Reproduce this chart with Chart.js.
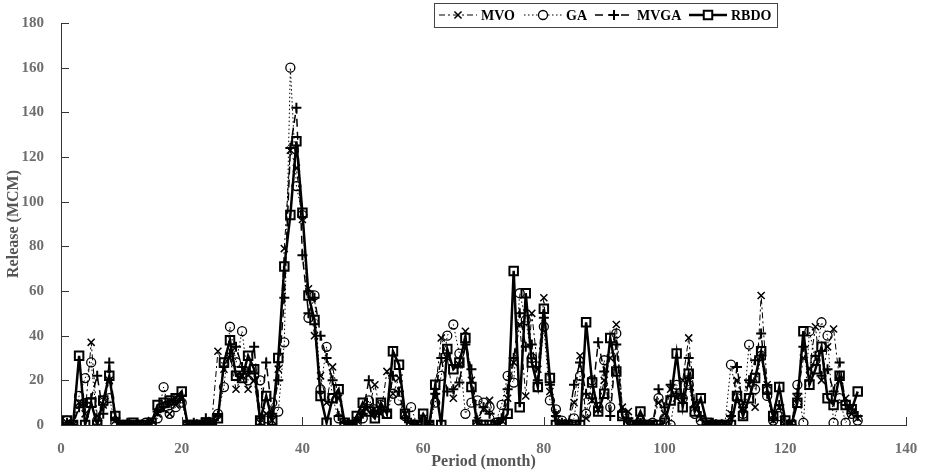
<!DOCTYPE html>
<html>
<head>
<meta charset="utf-8">
<title>Release per period</title>
<script src="https://cdn.jsdelivr.net/npm/chart.js@4"></script>
<style>
    html, body { margin: 0; padding: 0; background: #fff; }
    #wrap { width: 925px; height: 472px; }
</style>
</head>
<body>
<div id="wrap"><canvas id="releaseChart" width="925" height="472"></canvas></div>
<script>
// Months 1..132 (x axis categories)
const months = Array.from({ length: 132 }, (_, i) => i + 1);

const xTicks = [0, 20, 40, 60, 80, 100, 120, 140];
const yTicks = [0, 20, 40, 60, 80, 100, 120, 140, 160, 180];

// Release (MCM), month 1 to 132
const mvo = [
    1, 0, 10, 5, 37, 4, 9, 20, 2, 0, 0, 0, 1, 0, 2, 5, 7, 5, 9, 12,
    0, 0, 1, 0, 2, 33, 25, 30, 16, 22, 16, 20, 1, 5, 2, 25, 79, 123, 115, 92,
    61, 40, 22, 10, 26, 12, 0, 1, 2, 6, 8, 18, 5, 24, 14, 21, 5, 0, 1, 3,
    0, 15, 39, 30, 12, 27, 42, 20, 2, 7, 11, 0, 2, 12, 28, 45, 13, 50, 25, 57,
    15, 5, 0, 1, 10, 31, 3, 11, 7, 20, 30, 45, 8, 6, 1, 2, 0, 1, 10, 5,
    16, 12, 20, 39, 10, 3, 0, 0, 1, 0, 5, 20, 10, 18, 8, 58, 18, 2, 8, 0,
    1, 12, 30, 25, 44, 20, 35, 43, 20, 12, 5, 3
];
const ga = [
    2, 0, 13, 21, 28, 2, 10, 12, 1, 0, 0, 0, 0, 1, 0, 3, 17, 5, 8, 10,
    0, 0, 0, 0, 1, 5, 17, 44, 28, 42, 20, 22, 20, 3, 10, 6, 37, 160, 107, 94,
    48, 58, 16, 35, 12, 3, 0, 0, 1, 3, 11, 7, 9, 5, 14, 11, 4, 8, 0, 1,
    0, 10, 22, 40, 45, 32, 5, 10, 11, 10, 8, 1, 9, 22, 19, 59, 47, 30, 17, 44,
    11, 7, 2, 0, 3, 22, 5, 20, 8, 29, 8, 41, 5, 1, 0, 2, 0, 1, 12, 3,
    0, 18, 12, 18, 5, 2, 0, 0, 0, 0, 27, 12, 5, 36, 16, 31, 13, 2, 4, 0,
    0, 18, 1, 42, 29, 46, 40, 1, 12, 1, 5, 2
];
const mvga = [
    1, 0, 8, 10, 12, 22, 5, 28, 3, 0, 1, 0, 0, 0, 1, 6, 8, 10, 11, 13,
    0, 1, 0, 3, 0, 4, 26, 32, 35, 26, 24, 35, 3, 28, 5, 20, 57, 124, 142, 76,
    50, 57, 40, 30, 20, 4, 1, 0, 2, 5, 20, 6, 8, 6, 22, 15, 3, 1, 0, 2,
    0, 14, 30, 15, 16, 19, 36, 25, 2, 8, 5, 0, 3, 16, 30, 50, 35, 36, 20, 48,
    18, 4, 1, 0, 18, 28, 14, 12, 37, 24, 4, 36, 6, 3, 0, 1, 0, 0, 16, 8,
    18, 14, 12, 30, 8, 4, 0, 1, 0, 0, 4, 26, 8, 20, 29, 41, 14, 3, 9, 0,
    0, 14, 35, 20, 31, 22, 25, 15, 28, 9, 7, 4
];
const rbdo = [
    2, 0, 31, 0, 10, 0, 11, 22, 4, 0, 0, 1, 0, 0, 1, 9, 10, 11, 12, 15,
    0, 0, 0, 1, 0, 3, 28, 38, 22, 21, 31, 25, 2, 13, 2, 30, 71, 94, 127, 95,
    58, 47, 13, 1, 12, 16, 1, 0, 4, 10, 6, 3, 10, 5, 33, 27, 5, 0, 0, 5,
    0, 18, 0, 34, 25, 28, 39, 17, 0, 0, 0, 0, 1, 5, 69, 8, 59, 28, 17, 52,
    21, 0, 0, 0, 0, 0, 46, 19, 6, 14, 39, 24, 4, 0, 0, 6, 0, 0, 0, 1,
    11, 32, 8, 23, 6, 12, 1, 0, 0, 0, 0, 13, 4, 12, 21, 33, 16, 4, 17, 2,
    0, 10, 42, 18, 25, 35, 12, 9, 22, 9, 7, 15
];

const serif = '"Liberation Serif", "Times New Roman", serif';
const tickGrey = '#6e6e6e';

function toPoints(values) {
    return months.map((m, i) => ({ x: m, y: values[i] }));
}

// Inward tick marks, MATLAB style
const innerTicks = {
    id: 'innerTicks',
    afterDraw(chart) {
        const { ctx, chartArea, scales } = chart;
        ctx.save();
        ctx.strokeStyle = '#333';
        ctx.lineWidth = 1;
        xTicks.forEach(v => {
            const px = Math.round(scales.x.getPixelForValue(v)) + 0.5;
            ctx.beginPath();
            ctx.moveTo(px, chartArea.bottom);
            ctx.lineTo(px, chartArea.bottom - 8);
            ctx.stroke();
        });
        yTicks.forEach(v => {
            const py = Math.round(scales.y.getPixelForValue(v)) + 0.5;
            ctx.beginPath();
            ctx.moveTo(chartArea.left, py);
            ctx.lineTo(chartArea.left + 8, py);
            ctx.stroke();
        });
        ctx.restore();
    }
};

// Legend box with line sample + marker, drawn from the datasets
const boxLegend = {
    id: 'boxLegend',
    afterDraw(chart) {
        const ctx = chart.ctx;
        const order = ['MVO', 'GA', 'MVGA', 'RBDO'];
        const slots = [
            { line: [439, 477], text: 481 },
            { line: [524, 562], text: 566 },
            { line: [595, 633], text: 637 },
            { line: [689, 727], text: 731 }
        ];
        const y = 15;
        ctx.save();
        ctx.fillStyle = '#fff';
        ctx.fillRect(434, 3, 343, 24);
        ctx.strokeStyle = '#444';
        ctx.lineWidth = 1;
        ctx.strokeRect(434.5, 3.5, 343, 24);

        order.forEach((name, i) => {
            const ds = chart.data.datasets.find(d => d.label === name);
            const s = slots[i];
            ctx.strokeStyle = '#000';
            ctx.lineWidth = ds.borderWidth;
            ctx.setLineDash(ds.borderDash || []);
            ctx.beginPath();
            ctx.moveTo(s.line[0], y);
            ctx.lineTo(s.line[1], y);
            ctx.stroke();
            ctx.setLineDash([]);
            ctx.lineWidth = ds.pointBorderWidth;
            ctx.fillStyle = '#fff'; // hollow markers
            Chart.helpers.drawPoint(ctx, {
                pointStyle: ds.pointStyle,
                radius: ds.pointRadius,
                borderWidth: ds.pointBorderWidth
            }, (s.line[0] + s.line[1]) / 2, y);
            ctx.fillStyle = '#000';
            ctx.font = 'bold 14px ' + serif;
            ctx.textBaseline = 'middle';
            ctx.fillText(name, s.text, y + 1);
        });
        ctx.restore();
    }
};

const ctx = document.getElementById('releaseChart').getContext('2d');

new Chart(ctx, {
    type: 'line',
    data: {
        datasets: [
            {
                label: 'RBDO',
                data: toPoints(rbdo),
                borderColor: '#000',
                borderWidth: 2.5,
                pointStyle: 'rect',
                pointRadius: 6,
                pointBorderWidth: 2,
                pointBackgroundColor: 'rgba(255,255,255,0)',
                pointBorderColor: '#000'
            },
            {
                label: 'MVGA',
                data: toPoints(mvga),
                borderColor: '#000',
                borderWidth: 1.5,
                borderDash: [8, 5],
                pointStyle: 'cross',
                pointRadius: 5,
                pointBorderWidth: 2,
                pointBorderColor: '#000'
            },
            {
                label: 'GA',
                data: toPoints(ga),
                borderColor: '#000',
                borderWidth: 1,
                borderDash: [1.5, 2.5],
                pointStyle: 'circle',
                pointRadius: 4.5,
                pointBorderWidth: 1.3,
                pointBackgroundColor: 'rgba(255,255,255,0)',
                pointBorderColor: '#000'
            },
            {
                label: 'MVO',
                data: toPoints(mvo),
                borderColor: '#000',
                borderWidth: 1,
                borderDash: [6, 3, 2, 3],
                pointStyle: 'crossRot',
                pointRadius: 5,
                pointBorderWidth: 1.5,
                pointBorderColor: '#000'
            }
        ]
    },
    options: {
        responsive: false,
        animation: false,
        devicePixelRatio: 1,
        layout: { padding: { top: 23, right: 19, left: 0, bottom: 0 } },
        plugins: {
            legend: { display: false },
            tooltip: { enabled: false }
        },
        elements: { line: { tension: 0, fill: false } },
        scales: {
            x: {
                type: 'linear',
                min: 0,
                max: 140,
                afterFit: scale => { scale.height = 47; },
                afterBuildTicks: scale => { scale.ticks = xTicks.map(v => ({ value: v })); },
                grid: { display: false },
                border: { display: true, color: '#333', width: 1 },
                ticks: {
                    padding: 7,
                    color: tickGrey,
                    font: { family: serif, size: 15, weight: 'bold' }
                },
                title: {
                    display: true,
                    text: 'Period (month)',
                    color: '#555',
                    padding: { top: 0, bottom: 1 },
                    font: { family: serif, size: 16, weight: 'bold' }
                }
            },
            y: {
                min: 0,
                max: 180,
                afterFit: scale => { scale.width = 61; },
                afterBuildTicks: scale => { scale.ticks = yTicks.map(v => ({ value: v })); },
                grid: { display: false },
                border: { display: true, color: '#333', width: 1 },
                ticks: {
                    padding: 9,
                    color: tickGrey,
                    font: { family: serif, size: 15, weight: 'bold' }
                },
                title: {
                    display: true,
                    text: 'Release (MCM)',
                    color: '#555',
                    padding: { top: 4, bottom: 0 },
                    font: { family: serif, size: 16, weight: 'bold' }
                }
            }
        }
    },
    plugins: [innerTicks, boxLegend]
});
</script>
</body>
</html>
